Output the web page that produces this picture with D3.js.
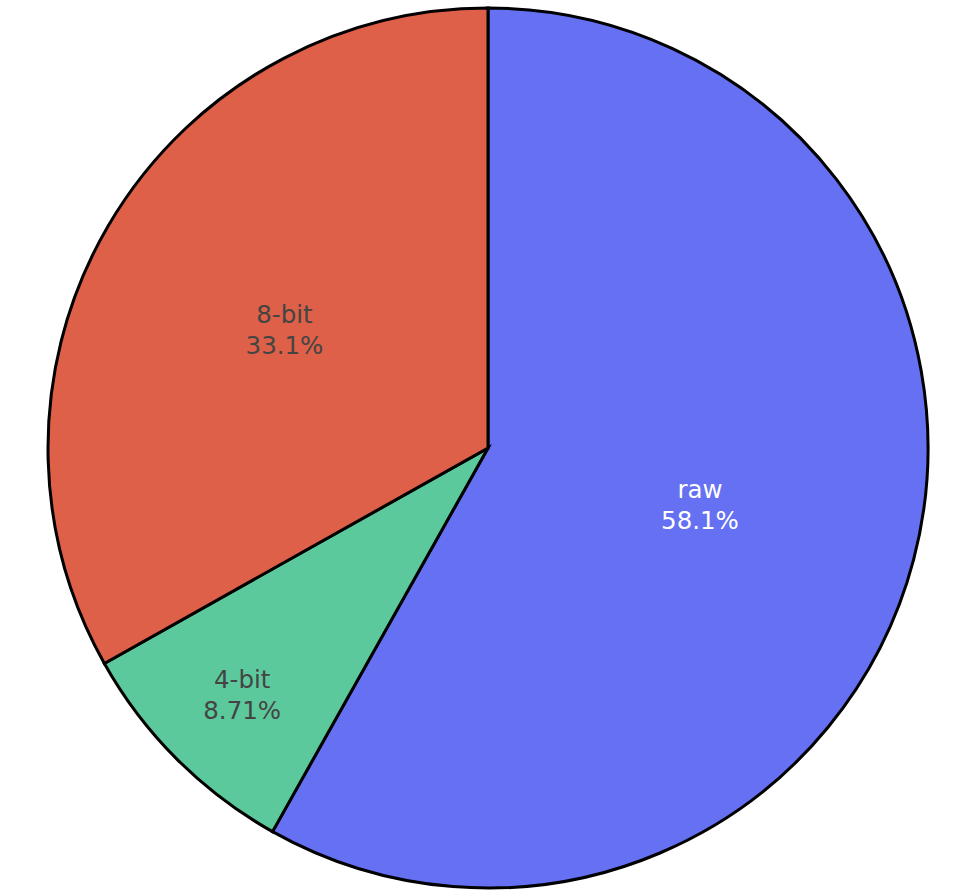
<!DOCTYPE html>
<html>
<head>
<meta charset="utf-8">
<script src="https://cdn.jsdelivr.net/npm/d3@7"></script>
<style>
  body { margin: 0; background: #fff; }
  text { font-family: "DejaVu Sans", Verdana, sans-serif; }
</style>
</head>
<body>
<div id="chart"></div>
<script>
// slice data, in drawing order (clockwise from 12 o'clock)
const labels = ["raw", "4-bit", "8-bit"];
const values = [58.14, 8.71, 33.14];
const colors = ["#6570f2", "#5bc99c", "#de6048"];
const textColors = ["#ffffff", "#444444", "#444444"];

const width = 964;
const height = 896;
const cx = 488, cy = 448;
const radius = 440;

const svg = d3.select("#chart")
  .append("svg")
  .attr("width", width)
  .attr("height", height);

const g = svg.append("g").attr("transform", `translate(${cx},${cy})`);

const data = labels.map((l, i) => ({ label: l, value: values[i], color: colors[i], tc: textColors[i] }));
const total = d3.sum(values);

const pie = d3.pie()
  .value((d) => d.value)
  .sort(null)
  .startAngle(0)
  .endAngle(2 * Math.PI);

const arc = d3.arc().innerRadius(0).outerRadius(radius);

const arcs = pie(data);

g.selectAll(".slice")
  .data(arcs)
  .enter()
  .append("path")
  .attr("class", "slice")
  .attr("d", arc)
  .attr("fill", (d) => d.data.color)
  .attr("stroke", "#000")
  .attr("stroke-width", 3)
  .attr("stroke-linejoin", "miter");

const fmt = d3.format(".3");

// small slices push their text further out so it fits
function labelPos(d) {
  const frac = d.data.value / total;
  let k = 0.536;
  if (frac < 0.15) k = 0.79;
  else if (frac > 0.5) k = 0.498;
  const r = radius * k;
  const a = (d.startAngle + d.endAngle) / 2;
  return [r * Math.sin(a), -r * Math.cos(a)];
}

const labelsG = g.selectAll(".lbl")
  .data(arcs)
  .enter()
  .append("text")
  .attr("class", "lbl")
  .attr("text-anchor", "middle")
  .attr("font-size", 24.5)
  .attr("fill", (d) => d.data.tc)
  .attr("transform", (d) => `translate(${labelPos(d)})`);

labelsG.append("tspan")
  .attr("x", 0)
  .attr("y", -5.5)
  .text((d) => d.data.label);

labelsG.append("tspan")
  .attr("x", 0)
  .attr("y", 25.5)
  .text((d) => fmt(d.data.value / total * 100) + "%");
</script>
</body>
</html>
